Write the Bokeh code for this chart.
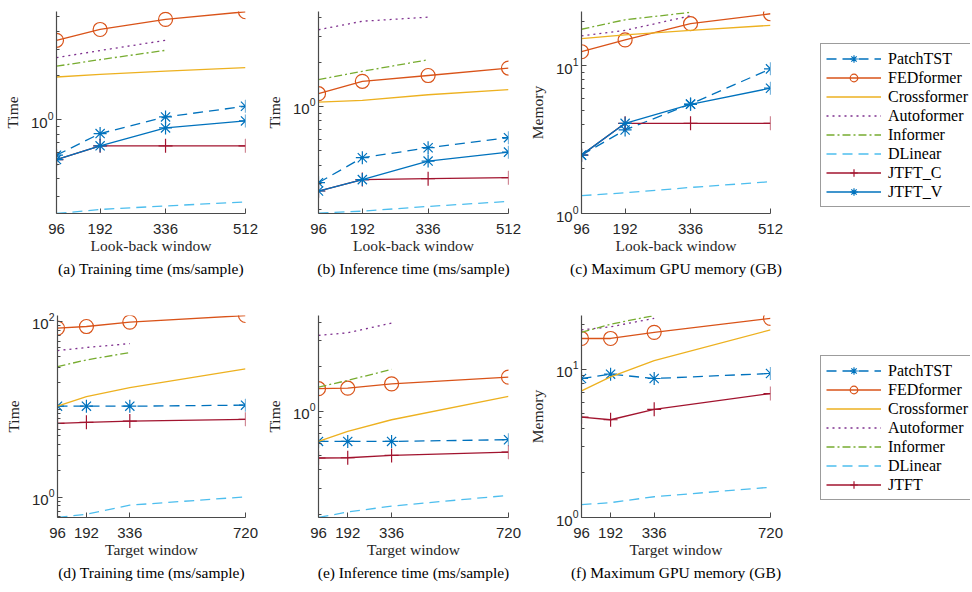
from bokeh.plotting import figure
from bokeh.models import Range1d, FixedTicker, Title, Legend, LegendItem, ColumnDataSource
from bokeh.layouts import row, column
from bokeh.embed import file_html
from bokeh.resources import INLINE

# ---------------- data ----------------
lookback = [96, 192, 336, 512]
target = [96, 192, 336, 720]
short_x = [96, 192, 336]   # Autoformer / Informer only reach 336

# (a) Training time (ms/sample) vs look-back window
a_patchtst = [0.575, 0.806, 1.045, 1.235]
a_fedformer = [3.46, 4.10, 4.80, 5.41]
a_crossformer = [1.95, 2.03, 2.14, 2.26]
a_autoformer = [2.64, 2.95, 3.46]
a_informer = [2.31, 2.56, 2.96]
a_dlinear = [0.231, 0.246, 0.260, 0.277]
a_jtft_c = [0.537, 0.665, 0.665, 0.665]
a_jtft_v = [0.537, 0.665, 0.880, 0.982]

# (b) Inference time (ms/sample) vs look-back window
b_patchtst = [0.304, 0.449, 0.525, 0.614]
b_fedformer = [1.22, 1.48, 1.62, 1.82]
b_crossformer = [1.07, 1.10, 1.20, 1.30]
b_autoformer = [3.31, 3.78, 4.03]
b_informer = [1.52, 1.73, 2.07]
b_dlinear = [0.189, 0.195, 0.210, 0.227]
b_jtft_c = [0.267, 0.319, 0.324, 0.329]
b_jtft_v = [0.267, 0.319, 0.426, 0.490]

# (c) Maximum GPU memory (GB) vs look-back window
c_patchtst = [2.48, 3.67, 5.50, 9.50]
c_fedformer = [12.4, 14.9, 19.2, 22.4]
c_crossformer = [15.2, 16.1, 17.3, 18.7]
c_autoformer = [15.9, 17.3, 21.7]
c_informer = [17.6, 20.4, 22.9]
c_dlinear = [1.32, 1.38, 1.50, 1.64]
c_jtft_c = [2.48, 4.07, 4.07, 4.07]
c_jtft_v = [2.48, 4.07, 5.47, 7.03]

# (d) Training time (ms/sample) vs target window
d_patchtst = [10.9, 10.9, 10.9, 11.2]
d_fedformer = [84.1, 87.7, 98.4, 117.0]
d_crossformer = [10.9, 14.0, 17.7, 28.9]
d_autoformer = [46.7, 50.6, 56.1]
d_informer = [30.7, 36.6, 44.4]
d_dlinear = [0.592, 0.645, 0.817, 1.016]
d_jtft = [6.96, 7.15, 7.39, 7.73]

# (e) Inference time (ms/sample) vs target window
e_patchtst = [0.623, 0.623, 0.623, 0.640]
e_fedformer = [1.42, 1.43, 1.53, 1.70]
e_crossformer = [0.623, 0.729, 0.874, 1.258]
e_autoformer = [3.26, 3.40, 3.95]
e_informer = [1.455, 1.615, 1.92]
e_dlinear = [0.190, 0.207, 0.227, 0.2685]
e_jtft = [0.481, 0.483, 0.501, 0.527]

# (f) Maximum GPU memory (GB) vs target window
f_patchtst = [8.65, 9.25, 8.65, 9.35]
f_fedformer = [16.1, 16.1, 17.7, 22.0]
f_crossformer = [7.13, 8.87, 11.4, 18.4]
f_autoformer = [18.4, 19.3, 22.0]
f_informer = [17.7, 20.1, 23.0]
f_dlinear = [1.22, 1.26, 1.38, 1.60]
f_jtft = [4.75, 4.56, 5.36, 6.85]

# y-axis limits of each panel
a_ylim = (0.231, 5.43)
b_ylim = (0.188, 4.40)
c_ylim = (1.0, 23.2)
d_ylim = (0.592, 117.0)
e_ylim = (0.190, 4.45)
f_ylim = (1.0, 23.0)

decades = [0.01, 0.1, 1, 10, 100, 1000]
d_major = [1, 100]          # panel (d) only labels 10^0 and 10^2
minor_ticks = [m * 10.0 ** k for k in range(-2, 3) for m in range(2, 10)]

# ---------------- styles ----------------
SERIF = "Liberation Serif"
SANS = "Liberation Sans"
AX = "#4a4a4a"
TXT = "#262626"

STYLE = {
    "PatchTST": dict(color="#0072BD", dash="10 6", marker="asterisk", size=13),
    "FEDformer": dict(color="#D95319", dash="solid", marker="circle", size=14),
    "Crossformer": dict(color="#EDB120", dash="solid", marker=None, size=0),
    "Autoformer": dict(color="#7E2F8E", dash="2 4", marker=None, size=0),
    "Informer": dict(color="#77AC30", dash="8 3 2 3", marker=None, size=0),
    "DLinear": dict(color="#4DBEEE", dash="10 6", marker=None, size=0),
    "JTFT_C": dict(color="#A2142F", dash="solid", marker="cross", size=14),
    "JTFT_V": dict(color="#0072BD", dash="solid", marker="asterisk", size=13),
    "JTFT": dict(color="#A2142F", dash="solid", marker="cross", size=14),
}
LW = 1.3

# row geometry (identical vertical borders inside each row)
ROW1 = dict(bt=11, fh=202, bb=87)
ROW2 = dict(bt=15, fh=202, bb=73)


def draw_series(p, name, xs, ys):
    st = STYLE[name]
    src = ColumnDataSource(dict(x=xs, y=ys))
    rs = [p.line("x", "y", source=src, line_color=st["color"], line_width=LW,
                 line_dash=st["dash"])]
    if st["marker"]:
        rs.append(p.scatter("x", "y", source=src, marker=st["marker"], size=st["size"],
                            line_color=st["color"], fill_color=None, line_width=1.2))
    return rs


def panel(series, xticks, ylim, majors, ylabel, xlabel, caption, geo, fw, bl, br):
    p = figure(frame_width=fw, frame_height=geo["fh"], y_axis_type="log",
               x_range=Range1d(xticks[0], xticks[-1]), y_range=Range1d(*ylim),
               output_backend="svg", toolbar_location=None,
               min_border_left=bl, min_border_top=geo["bt"], min_border_bottom=geo["bb"],
               min_border_right=br, outline_line_color=None)
    p.xgrid.visible = False
    p.ygrid.visible = False
    for name, xs, ys in series:
        draw_series(p, name, xs, ys)
    p.xaxis.ticker = FixedTicker(ticks=xticks, minor_ticks=[])
    minors = [t for t in minor_ticks + decades if t not in majors]
    p.yaxis.ticker = FixedTicker(ticks=majors, minor_ticks=minors)
    for ax in (p.xaxis[0], p.yaxis[0]):
        ax.axis_line_color = AX
        ax.axis_line_width = 1.2
        ax.major_tick_line_color = AX
        ax.minor_tick_line_color = AX
        ax.major_tick_in = 5
        ax.major_tick_out = 0
        ax.minor_tick_in = 3
        ax.minor_tick_out = 0
        ax.major_label_text_font = SANS
        ax.major_label_text_font_size = "15px"
        ax.major_label_text_color = TXT
        ax.axis_label_text_font = SERIF
        ax.axis_label_text_font_size = "15.5px"
        ax.axis_label_text_font_style = "normal"
        ax.axis_label_text_color = TXT
    p.xaxis.axis_label = xlabel
    p.yaxis.axis_label = ylabel
    p.xaxis.major_label_standoff = 10
    p.xaxis.axis_label_standoff = 0
    p.yaxis.major_label_standoff = 3
    p.yaxis.axis_label_standoff = 7
    p.add_layout(Title(text=caption, align="center", text_font=SERIF,
                       text_font_size="15.5px", text_font_style="normal",
                       text_color="black", standoff=3), "below")
    return p


def legend_fig(entries, geo, width, location, margin):
    p = figure(frame_width=width, frame_height=geo["fh"], min_border_left=0,
               min_border_top=geo["bt"], min_border_right=0, min_border_bottom=geo["bb"],
               x_range=Range1d(0, 1), y_range=Range1d(0, 1),
               x_axis_location=None, y_axis_location=None,
               output_backend="svg", toolbar_location=None, outline_line_color=None)
    p.xgrid.visible = False
    p.ygrid.visible = False
    items = []
    for name, xs, ys in entries:
        # proxies lie outside the (0, 1) view; only their legend glyphs show
        rs = draw_series(p, name, xs, ys)
        items.append(LegendItem(label=name, renderers=rs))
    lg = Legend(items=items, location=location, margin=margin, glyph_width=55,
                glyph_height=19, label_height=19, spacing=0, padding=5,
                label_standoff=7, label_text_font=SERIF, label_text_font_size="16px",
                label_text_color="black", border_line_color="#3a3a3a",
                border_line_width=1, background_fill_alpha=1.0)
    p.add_layout(lg, "center")
    return p


LB = "Look-back window"
TW = "Target window"

pa = panel([("PatchTST", lookback, a_patchtst), ("FEDformer", lookback, a_fedformer),
            ("Crossformer", lookback, a_crossformer), ("Autoformer", short_x, a_autoformer),
            ("Informer", short_x, a_informer), ("DLinear", lookback, a_dlinear),
            ("JTFT_C", lookback, a_jtft_c), ("JTFT_V", lookback, a_jtft_v)],
           lookback, a_ylim, decades, "Time", LB, "(a) Training time (ms/sample)",
           ROW1, 189, 56, 17)
pb = panel([("PatchTST", lookback, b_patchtst), ("FEDformer", lookback, b_fedformer),
            ("Crossformer", lookback, b_crossformer), ("Autoformer", short_x, b_autoformer),
            ("Informer", short_x, b_informer), ("DLinear", lookback, b_dlinear),
            ("JTFT_C", lookback, b_jtft_c), ("JTFT_V", lookback, b_jtft_v)],
           lookback, b_ylim, decades, "Time", LB, "(b) Inference time (ms/sample)",
           ROW1, 190, 56, 17)
pc = panel([("PatchTST", lookback, c_patchtst), ("FEDformer", lookback, c_fedformer),
            ("Crossformer", lookback, c_crossformer), ("Autoformer", short_x, c_autoformer),
            ("Informer", short_x, c_informer), ("DLinear", lookback, c_dlinear),
            ("JTFT_C", lookback, c_jtft_c), ("JTFT_V", lookback, c_jtft_v)],
           lookback, c_ylim, decades, "Memory", LB, "(c) Maximum GPU memory (GB)",
           ROW1, 189, 56, 18)
pd_ = panel([("PatchTST", target, d_patchtst), ("FEDformer", target, d_fedformer),
             ("Crossformer", target, d_crossformer), ("Autoformer", short_x, d_autoformer),
             ("Informer", short_x, d_informer), ("DLinear", target, d_dlinear),
             ("JTFT", target, d_jtft)],
            target, d_ylim, d_major, "Time", TW, "(d) Training time (ms/sample)",
            ROW2, 188, 57, 17)
pe = panel([("PatchTST", target, e_patchtst), ("FEDformer", target, e_fedformer),
            ("Crossformer", target, e_crossformer), ("Autoformer", short_x, e_autoformer),
            ("Informer", short_x, e_informer), ("DLinear", target, e_dlinear),
            ("JTFT", target, e_jtft)],
           target, e_ylim, decades, "Time", TW, "(e) Inference time (ms/sample)",
           ROW2, 190, 56, 17)
pf = panel([("PatchTST", target, f_patchtst), ("FEDformer", target, f_fedformer),
            ("Crossformer", target, f_crossformer), ("Autoformer", short_x, f_autoformer),
            ("Informer", short_x, f_informer), ("DLinear", target, f_dlinear),
            ("JTFT", target, f_jtft)],
           target, f_ylim, decades, "Memory", TW, "(f) Maximum GPU memory (GB)",
           ROW2, 189, 56, 33)

leg1 = legend_fig([("PatchTST", lookback, a_patchtst), ("FEDformer", lookback, a_fedformer),
                   ("Crossformer", lookback, a_crossformer), ("Autoformer", short_x, a_autoformer),
                   ("Informer", short_x, a_informer), ("DLinear", lookback, a_dlinear),
                   ("JTFT_C", lookback, a_jtft_c), ("JTFT_V", lookback, a_jtft_v)],
                  ROW1, 182, "top_left", 32)
leg2 = legend_fig([("PatchTST", target, d_patchtst), ("FEDformer", target, d_fedformer),
                   ("Crossformer", target, d_crossformer), ("Autoformer", short_x, d_autoformer),
                   ("Informer", short_x, d_informer), ("DLinear", target, d_dlinear),
                   ("JTFT", target, d_jtft)],
                  ROW2, 167, "bottom_left", 17)

layout = column(row(pa, pb, pc, leg1, spacing=0), row(pd_, pe, pf, leg2, spacing=0), spacing=0)

with open("out.html", "w") as fh:
    fh.write(file_html(layout, INLINE))
